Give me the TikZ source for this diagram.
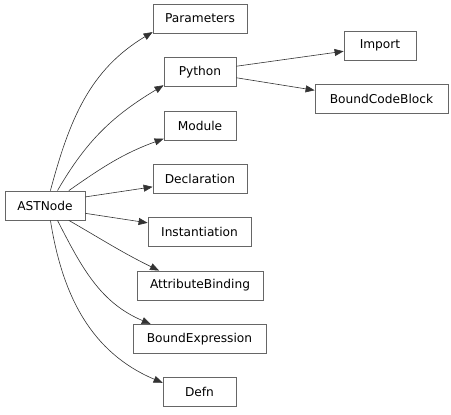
\documentclass[tikz,border=0pt]{standalone}
\usepackage{fontspec}
\setmainfont{DejaVu Sans}
\usetikzlibrary{positioning, arrows.meta}

\begin{document}
\begin{tikzpicture}[
  x=1pt, y=1pt,
  cls/.style={
    rectangle,
    draw=black!60,
    line width=0.8pt,
    fill=white,
    align=center,
    minimum height=29pt,
    inner xsep=6pt,
    font=\fontsize{12.2}{14}\selectfont
  },
  arrow/.style={-{Triangle[length=9pt, width=7pt]}, line width=0.6pt, draw=black!80}
]
  \useasboundingbox (0,0) rectangle (451,415);

  % Nodes
  \node (ASTNode) [cls, minimum width=80pt]          at (45,209.5)   {ASTNode};
  \node (Parameters) [cls, minimum width=94pt]       at (200,396.5)  {Parameters};
  \node (Python) [cls, minimum width=72pt]           at (200,343)    {Python};
  \node (Module) [cls, minimum width=72pt]           at (200,289.5)  {Module};
  \node (Declaration) [cls, minimum width=94pt]      at (200,236.5)  {Declaration};
  \node (Instantiation) [cls, minimum width=103pt]   at (199.5,183)  {Instantiation};
  \node (AttributeBinding) [cls, minimum width=126pt] at (200,129.5) {AttributeBinding};
  \node (BoundExpression) [cls, minimum width=133pt] at (199.5,76)   {BoundExpression};
  \node (Defn) [cls, minimum width=73pt]             at (199.5,23)   {Defn};

  \node (Import) [cls, minimum width=72pt]           at (380,369.5)  {Import};
  \node (BoundCodeBlock) [cls, minimum width=133pt]  at (381.5,316.5) {BoundCodeBlock};

  % Arrows
  \draw [arrow] (ASTNode.70) to[out=75, in=211] (Parameters.196);
  \draw [arrow] (ASTNode.50) to[out=60, in=211] (Python.200);
  \draw [arrow] (ASTNode.32) to[out=35, in=200] (Module.200);
  \draw [arrow] (ASTNode.12) -- (Declaration.190);
  \draw [arrow] (ASTNode.-11) -- (Instantiation.170);
  \draw [arrow] (ASTNode.-32) to[out=-30, in=154] (AttributeBinding.160);
  \draw [arrow] (ASTNode.-50) to[out=-63, in=157] (BoundExpression.163);
  \draw [arrow] (ASTNode.-70) to[out=-81, in=157] (Defn.166);
  \draw [arrow] (Python.9) -- (Import.189);
  \draw [arrow] (Python.-9) -- (BoundCodeBlock.173);

\end{tikzpicture}
\end{document}
